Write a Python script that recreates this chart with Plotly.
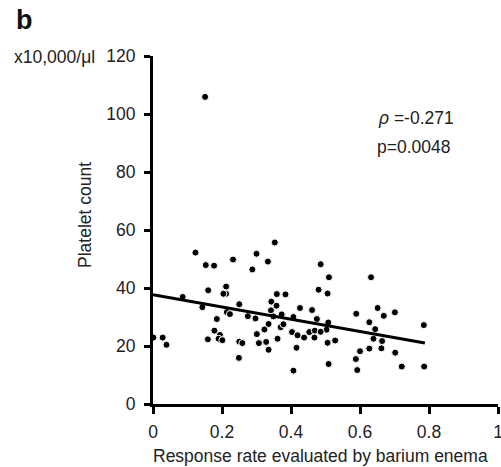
import plotly.graph_objects as go

# Data
resp_rate = [0.001, 0.028, 0.039, 0.086, 0.123, 0.143, 0.153, 0.177, 0.160, 0.159,
             0.185, 0.178, 0.194, 0.190, 0.201, 0.212, 0.212, 0.204, 0.232, 0.214,
             0.223, 0.250, 0.250, 0.259, 0.249, 0.275, 0.288, 0.300, 0.297, 0.301,
             0.307, 0.323, 0.328, 0.335, 0.335, 0.333, 0.353, 0.343, 0.342, 0.358,
             0.359, 0.384, 0.349, 0.361, 0.370, 0.378, 0.373, 0.407, 0.403, 0.419,
             0.407, 0.416, 0.426, 0.438, 0.453, 0.461, 0.469, 0.468, 0.475, 0.480,
             0.486, 0.510, 0.506, 0.508, 0.503, 0.486, 0.506, 0.528, 0.509, 0.589,
             0.632, 0.651, 0.669, 0.701, 0.627, 0.644, 0.639, 0.664, 0.662, 0.627,
             0.600, 0.588, 0.592, 0.702, 0.721, 0.785, 0.786, 0.151]
platelet = [22.9, 22.9, 20.4, 36.9, 52.2, 33.4, 47.9, 47.7, 39.2, 22.3,
            29.3, 25.3, 23.8, 22.5, 22.0, 40.5, 38.0, 38.0, 49.8, 31.7,
            31.0, 34.4, 21.5, 21.0, 15.9, 30.3, 46.4, 51.8, 29.5, 24.1,
            21.0, 25.7, 21.4, 27.6, 18.7, 49.1, 55.7, 35.3, 32.3, 33.9,
            37.9, 37.8, 30.2, 22.5, 26.5, 27.5, 30.9, 30.0, 24.8, 23.7,
            11.5, 19.4, 33.1, 22.9, 24.8, 32.4, 25.3, 22.9, 29.3, 39.4,
            48.2, 43.7, 38.1, 28.1, 25.6, 24.9, 21.1, 21.9, 13.8, 31.1,
            43.7, 33.1, 30.4, 31.6, 28.2, 25.8, 22.5, 21.7, 19.2, 19.1,
            18.2, 15.5, 11.7, 17.7, 12.9, 27.2, 12.9, 105.9]
fit_x = [0.0, 0.788]
fit_y = [37.7, 21.0]
x_ticks = [0, 0.2, 0.4, 0.6, 0.8, 1]
x_tick_labels = ["0", "0.2", "0.4", "0.6", "0.8", "1"]
y_ticks = [0, 20, 40, 60, 80, 100, 120]
y_tick_labels = ["0", "20", "40", "60", "80", "100", "120"]

FONT = "Liberation Sans, Arial, sans-serif"
W, H = 501, 467
L, R, T, B = 153, 3, 56, 63
PW, PH = W - L - R, H - T - B


def px(x):
    return (x - L) / PW


def py(y):
    return (H - B - y) / PH


fig = go.Figure()
fig.add_trace(go.Scatter(
    x=resp_rate, y=platelet, mode="markers",
    marker=dict(color="black", size=7, line=dict(color="white", width=1)),
    showlegend=False, cliponaxis=False))
fig.add_trace(go.Scatter(
    x=fit_x, y=fit_y, mode="lines",
    line=dict(color="black", width=3), showlegend=False))

fig.update_xaxes(range=[0, 1], tickvals=x_ticks, ticktext=x_tick_labels,
                 showline=True, linecolor="black", linewidth=3,
                 ticks="outside", ticklen=7, tickwidth=3, tickcolor="black",
                 showgrid=False, zeroline=False, ticklabeloverflow="allow",
                 ticklabelstandoff=3, automargin=False,
                 tickfont=dict(family=FONT, size=17.5, color="#222"))
fig.update_yaxes(range=[0, 120], tickvals=y_ticks, ticktext=y_tick_labels,
                 showline=True, linecolor="black", linewidth=3,
                 ticks="outside", ticklen=6, tickwidth=3, tickcolor="black",
                 showgrid=False, zeroline=False, ticklabelstandoff=5,
                 automargin=False,
                 tickfont=dict(family=FONT, size=17.5, color="#222"))

ann = [
    dict(text="<b>b</b>", x=px(14), y=py(20), xanchor="left", yanchor="middle",
         font=dict(family=FONT, size=27, color="#111")),
    dict(text="x10,000/μl", x=px(12), y=py(57), xanchor="left", yanchor="middle",
         font=dict(family=FONT, size=17.5, color="#222")),
    dict(text="Platelet count", x=px(85), y=py(215), xanchor="center", yanchor="middle",
         textangle=-90, font=dict(family=FONT, size=17.5, color="#222")),
    dict(text="Response rate evaluated by barium enema", x=px(320), y=py(456),
         xanchor="center", yanchor="middle",
         font=dict(family=FONT, size=17.5, color="#222")),
    dict(text="<i>ρ</i> =-0.271", x=px(376), y=py(118), xanchor="left", yanchor="middle",
         font=dict(family=FONT, size=17.5, color="#222")),
    dict(text="p=0.0048", x=px(375), y=py(147), xanchor="left", yanchor="middle",
         font=dict(family=FONT, size=17.5, color="#222")),
]
for a in ann:
    a.update(xref="paper", yref="paper", showarrow=False)

fig.update_layout(width=W, height=H, margin=dict(l=L, r=R, t=T, b=B, pad=0),
                  plot_bgcolor="white", paper_bgcolor="white",
                  annotations=ann)

fig.write_html("out.html", config={"displayModeBar": False},
               post_script="document.body.style.margin='0';document.body.style.padding='0';")
